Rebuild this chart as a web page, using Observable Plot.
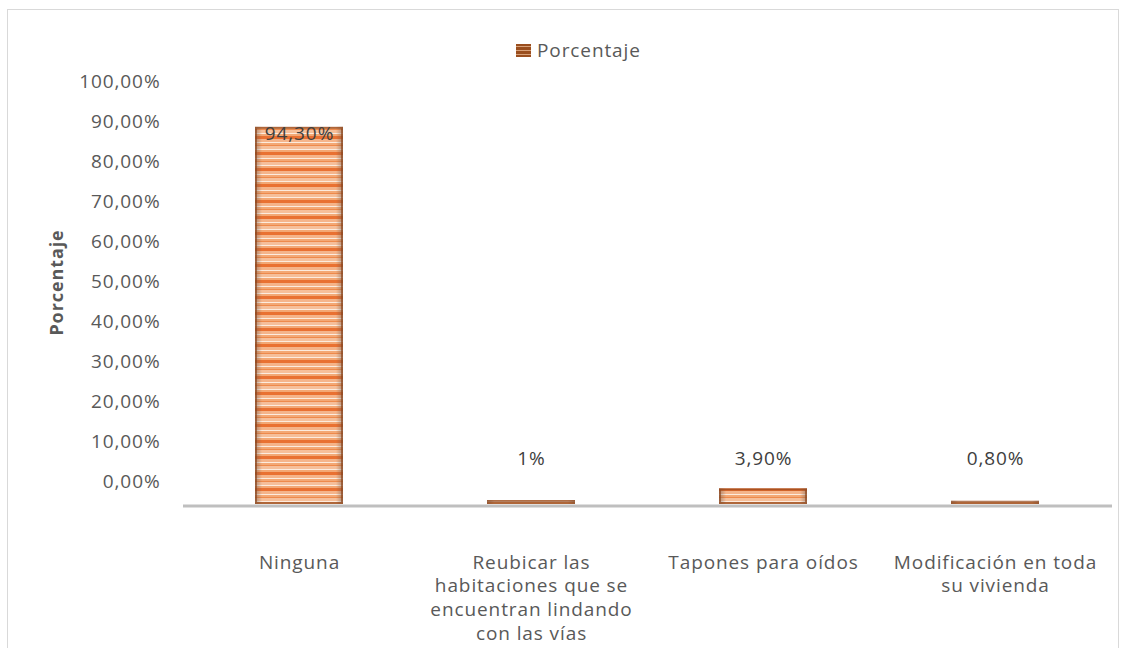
<!DOCTYPE html>
<html>
<head>
<meta charset="utf-8">
<script src="https://cdn.jsdelivr.net/npm/d3@7"></script>
<script src="https://cdn.jsdelivr.net/npm/@observablehq/plot@0.6"></script>
<style>
  html, body { margin: 0; padding: 0; background: #fff; }
  #wrap { position: relative; width: 1128px; height: 648px; overflow: hidden; font-family: "Open Sans", sans-serif; }
  #border { position: absolute; left: 7px; top: 9px; width: 1112px; height: 645px; border: 1px solid #D9D9D9; box-sizing: border-box; }
  #legend { position: absolute; left: 516px; top: 37px; display: flex; align-items: center; font-size: 19px; letter-spacing: 0.9px; color: #595959; }
  #legend .sw { width: 15px; height: 13px; margin-right: 6px; background: repeating-linear-gradient(to bottom, #9A4E1E 0 2px, #D9A27A 2px 3px, #9A4E1E 3px 4px); }
  #chart { position: absolute; left: 0; top: 0; }
</style>
</head>
<body>
<div id="wrap">
  <div id="border"></div>
  <div id="chart"></div>
  <div id="legend"><span class="sw"></span><span>Porcentaje</span></div>
</div>
<script>
const categories = [
  "Ninguna",
  "Reubicar las habitaciones que se encuentran lindando con las vías",
  "Tapones para oídos",
  "Modificación en toda su vivienda"
];
const categoryLabels = [
  "Ninguna",
  "Reubicar las\nhabitaciones que se\nencuentran lindando\ncon las vías",
  "Tapones para oídos",
  "Modificación en toda\nsu vivienda"
];
const values = [94.3, 1, 3.9, 0.8];
const valueLabels = ["94,30%", "1%", "3,90%", "0,80%"];
const yTicks = [0, 10, 20, 30, 40, 50, 60, 70, 80, 90, 100];
const seriesName = "Porcentaje";

const data = categories.map((c, i) => ({category: c, value: values[i], label: valueLabels[i]}));
const labelOf = new Map(categories.map((c, i) => [c, categoryLabels[i]]));

const chart = Plot.plot({
  width: 1128,
  height: 648,
  marginLeft: 183,
  marginRight: 16,
  marginTop: 104,
  marginBottom: 144,
  style: {fontFamily: "'Open Sans', sans-serif", background: "transparent", letterSpacing: "0.9px"},
  x: {domain: categories, paddingInner: 0.62, paddingOuter: 0.31},
  y: {domain: [0, 100]},
  marks: [
    Plot.axisY({ticks: yTicks, tickSize: 0, tickPadding: 23, dy: -23, fontSize: 19, fill: "#595959",
      tickFormat: d => d.toFixed(2).replace(".", ",") + "%", label: null}),
    Plot.axisX({tickSize: 0, tickPadding: 47, fontSize: 19, fill: "#595959", lineHeight: 1.26,
      tickFormat: d => labelOf.get(d), label: null}),
    Plot.text([seriesName], {frameAnchor: "left", textAnchor: "middle", rotate: -90, dx: -126, dy: -22,
      fontSize: 18, fontWeight: "bold", fill: "#595959"}),
    Plot.barY(data, {x: "category", y: "value", fill: "url(#stripes)"}),
    Plot.barY(data, {x: "category", y: "value", fill: "url(#edges)"}),
    Plot.barY(data, {x: "category", y: "value", fill: "none", stroke: "#8A4219", strokeOpacity: 0.65,
      strokeWidth: 2, inset: 1}),
    Plot.ruleY([0], {stroke: "#BFBFBF", strokeWidth: 3, dy: 1.5}),
    Plot.text(data.filter(d => d.value > 50), {x: "category", y: "value", text: "label", dy: 7,
      fontSize: 19, fill: "#404040"}),
    Plot.text(data.filter(d => d.value <= 50), {x: "category", y: 0, text: "label", dy: -46,
      fontSize: 19, fill: "#404040"})
  ]
});

const defs = d3.select(chart).insert("defs", ":first-child");
const pat = defs.append("pattern").attr("id", "stripes").attr("patternUnits", "userSpaceOnUse")
  .attr("width", 16).attr("height", 16).attr("y", 504 % 16);
const bands = [
  [0, 3, "#E97132"], [3, 6, "#F5B48A"], [6, 7, "#FDEBDD"], [7, 9, "#F3A875"],
  [9, 10, "#EE8A4C"], [10, 13, "#F6BF9A"], [13, 14, "#FDEBDD"], [14, 16, "#F3A875"]
];
for (const [a, b, c] of bands) pat.append("rect").attr("x", 0).attr("y", a).attr("width", 16).attr("height", b - a).attr("fill", c);
const g = defs.append("linearGradient").attr("id", "edges").attr("x1", 0).attr("x2", 1).attr("y1", 0).attr("y2", 0);
g.append("stop").attr("offset", "0").attr("stop-color", "#6B5A50").attr("stop-opacity", 0.5);
g.append("stop").attr("offset", "0.08").attr("stop-color", "#6B5A50").attr("stop-opacity", 0);
g.append("stop").attr("offset", "0.92").attr("stop-color", "#6B5A50").attr("stop-opacity", 0);
g.append("stop").attr("offset", "1").attr("stop-color", "#6B5A50").attr("stop-opacity", 0.5);

document.getElementById("chart").appendChild(chart);
</script>
</body>
</html>
